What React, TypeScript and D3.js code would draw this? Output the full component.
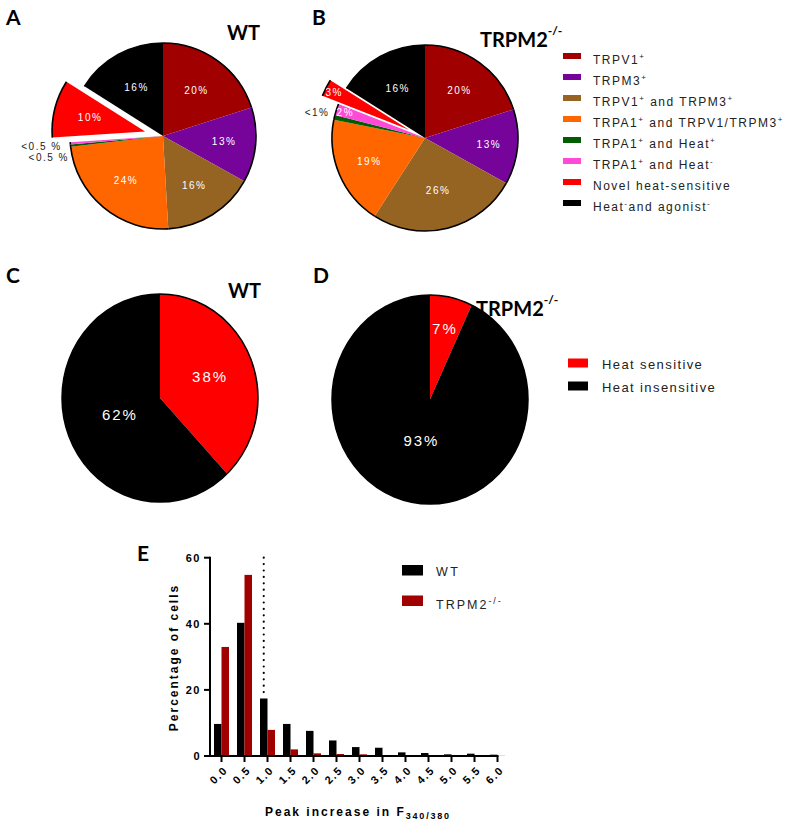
import React from "react";
import * as d3 from "d3";

// ---------- DATA ----------
const abLegendText: string[][] = [
  ["TRPV1", "+"],
  ["TRPM3", "+"],
  ["TRPV1", "+", " and TRPM3", "+"],
  ["TRPA1", "+", " and TRPV1/TRPM3", "+"],
  ["TRPA1", "+", " and Heat", "+"],
  ["TRPA1", "+", " and Heat", "-"],
  ["Novel heat-sensitive"],
  ["Heat", "-", "and agonist", "-"],
];
const abColors = ["#A00000", "#76049A", "#956322", "#FF6600", "#005E00", "#FF4AD8", "#FF0000", "#000000"];
const wtShares = [20, 13, 16, 24, 0.4, 0.4, 10, 16];
const wtLabels = ["20%", "13%", "16%", "24%", "<0.5 %", "<0.5 %", "10%", "16%"];
const koShares = [20, 13, 26, 19, 0.8, 2, 3, 16];
const koLabels = ["20%", "13%", "26%", "19%", "<1%", "2%", "3%", "16%"];

const heatCategories = ["Heat sensitive", "Heat insensitive"];
const heatColors = ["#FF0000", "#000000"];
const heatWT = [38, 62];
const heatKO = [7, 93];
const heatWTLabels = ["38%", "62%"];
const heatKOLabels = ["7%", "93%"];

const binLabels = ["0.0", "0.5", "1.0", "1.5", "2.0", "2.5", "3.0", "3.5", "4.0", "4.5", "5.0", "5.5", "6.0"];
const histWT = [9.7, 40.3, 17.4, 9.7, 7.6, 4.7, 2.7, 2.5, 1.1, 0.9, 0.5, 0.7, 0.4];
const histKO = [33.0, 54.8, 7.9, 2.0, 0.8, 0.6, 0.5, 0.3, 0.1, 0.1, 0.05, 0.05, 0.05];
const histSeries = ["WT", "TRPM2"];
const histColors = ["#000000", "#A00000"];
const yTicks = [0, 20, 40, 60];
const thresholdValue = 19;

// ---------- STYLE ----------
const SANS = "'Liberation Sans', Arial, sans-serif";
const TITLE = "Lato, 'Open Sans', sans-serif";

type OutsideLabel = { dx: number; dy: number; color: string };

function PieAB(props: {
  cx: number; cy: number; r: number; shares: number[]; labels: string[];
  explodeIndex: number; explodeDist: number; labelFactor: number[];
  outside: Record<number, OutsideLabel>; labelColors?: Record<number, string>;
}) {
  const { cx, cy, r, shares, labels, explodeIndex, explodeDist, labelFactor, outside } = props;
  const arcs = d3.pie<number>().sort(null).value((d) => d)(shares);
  const arcGen = d3.arc<any>().innerRadius(0).outerRadius(r);
  return (
    <g transform={`translate(${cx},${cy})`}>
      {arcs.map((a, i) => {
        const mid = (a.startAngle + a.endAngle) / 2;
        const off = i === explodeIndex ? explodeDist : 0;
        const ox = Math.sin(mid) * off;
        const oy = -Math.cos(mid) * off;
        const p = d3.path();
        p.arc(0, 0, r, a.startAngle - Math.PI / 2, a.endAngle - Math.PI / 2);
        return (
          <g key={i} transform={`translate(${ox},${oy})`}>
            <path d={arcGen(a) as string} fill={abColors[i]} />
            <path d={p.toString()} fill="none" stroke="#000" strokeWidth={1.6} />
          </g>
        );
      })}
      {arcs.map((a, i) => {
        const mid = (a.startAngle + a.endAngle) / 2;
        const off = i === explodeIndex ? explodeDist : 0;
        const o = outside[i];
        if (o) {
          const px = Math.sin(mid) * (r + off);
          const py = -Math.cos(mid) * (r + off);
          return (
            <text key={"l" + i} x={px + o.dx} y={py + o.dy} textAnchor="end" fontSize={10}
              letterSpacing={1.5} fill={o.color} fontFamily={SANS}>{labels[i]}</text>
          );
        }
        const rr = r * labelFactor[i] + off;
        return (
          <text key={"l" + i} x={Math.sin(mid) * rr} y={-Math.cos(mid) * rr} textAnchor="middle"
            dominantBaseline="central" fontSize={10} letterSpacing={1.5} fill="#fff" fontFamily={SANS}>
            {labels[i]}
          </text>
        );
      })}
    </g>
  );
}

function PieCD(props: { cx: number; cy: number; rx: number; ry: number; values: number[]; labels: string[]; factors: number[] }) {
  const { cx, cy, rx, ry, values, labels, factors } = props;
  const arcs = d3.pie<number>().sort(null).value((d) => d)(values);
  const arcGen = d3.arc<any>().innerRadius(0).outerRadius(rx);
  const sy = ry / rx;
  return (
    <g transform={`translate(${cx},${cy})`}>
      <g transform={`scale(1,${sy})`}>
        {arcs.map((a, i) => (
          <path key={i} d={arcGen(a) as string} fill={heatColors[i]} />
        ))}
        <circle r={rx} fill="none" stroke="#000" strokeWidth={1.5} vectorEffect="non-scaling-stroke" />
      </g>
      {arcs.map((a, i) => {
        const mid = (a.startAngle + a.endAngle) / 2;
        const f = factors[i];
        return (
          <text key={"t" + i} x={Math.sin(mid) * rx * f} y={-Math.cos(mid) * ry * f} textAnchor="middle"
            dominantBaseline="central" fontSize={15} letterSpacing={2} fill="#fff" fontFamily={SANS}>
            {labels[i]}
          </text>
        );
      })}
    </g>
  );
}

function SupText(props: { x: number; y: number; parts: string[]; size: number; supSize: number; ls: number; fill?: string; weight?: string; family?: string }) {
  const { x, y, parts, size, supSize, ls, fill = "#222", weight = "normal", family = SANS } = props;
  return (
    <text x={x} y={y} fontSize={size} letterSpacing={ls} fill={fill} fontWeight={weight} fontFamily={family}>
      {parts.map((p, i) =>
        i % 2 === 1 ? (
          <tspan key={i} fontSize={supSize} dy={-5}>{p}</tspan>
        ) : (
          <tspan key={i} dy={i === 0 ? 0 : 5}>{p}</tspan>
        )
      )}
    </text>
  );
}

function Histogram() {
  const x0 = d3.scaleBand<string>().domain(binLabels).range([210, 509]);
  const bw = x0.bandwidth();
  const x1 = d3.scaleBand<string>().domain(histSeries).range([bw / 2 - 7.5, bw / 2 + 7.5]);
  const y = d3.scaleLinear().domain([0, 60]).range([756, 557.7]);
  const series = [histWT, histKO];
  const dotX = (x0("1.0") as number) + (x1("WT") as number) + x1.bandwidth() / 2;
  const lastTick = (x0(binLabels[binLabels.length - 1]) as number) + bw / 2;
  return (
    <g fontFamily={SANS}>
      {series.map((vals, s) =>
        vals.map((v, i) => (
          <rect key={s + "-" + i} x={(x0(binLabels[i]) as number) + (x1(histSeries[s]) as number)} y={y(v)}
            width={x1.bandwidth()} height={y(0) - y(v)} fill={histColors[s]} />
        ))
      )}
      <line x1={dotX} x2={dotX} y1={y(60)} y2={y(thresholdValue)} stroke="#000" strokeWidth={2.2}
        strokeDasharray="0,6.4" strokeLinecap="round" />
      {/* y axis */}
      <line x1={210} x2={210} y1={y(60) - 1} y2={y(0) + 1} stroke="#000" strokeWidth={2} />
      {yTicks.map((t) => (
        <g key={t}>
          <line x1={204} x2={210} y1={y(t)} y2={y(t)} stroke="#000" strokeWidth={2} />
          <text x={201} y={y(t)} textAnchor="end" dominantBaseline="central" fontSize={11} fontWeight="bold"
            letterSpacing={1.5}>{t}</text>
        </g>
      ))}
      {/* x axis */}
      <line x1={209} x2={lastTick + 1} y1={y(0)} y2={y(0)} stroke="#000" strokeWidth={2} />
      {binLabels.map((b) => {
        const cx = (x0(b) as number) + bw / 2;
        return (
          <g key={b}>
            <line x1={cx} x2={cx} y1={y(0)} y2={y(0) + 6} stroke="#000" strokeWidth={2} />
            <text transform={`translate(${cx + 4},${y(0) + 12}) rotate(-45)`} textAnchor="end"
              dominantBaseline="central" fontSize={11} fontWeight="bold" letterSpacing={1.5}>{b}</text>
          </g>
        );
      })}
      <text transform="translate(173.5,657.5) rotate(-90)" textAnchor="middle" dominantBaseline="central"
        fontSize={12} fontWeight="bold" letterSpacing={2}>Percentage of cells</text>
      <text x={265} y={816} fontSize={12} fontWeight="bold" letterSpacing={2}>
        Peak increase in F<tspan fontSize={9} dy={3} letterSpacing={1.8}>340/380</tspan>
      </text>
      {/* legend */}
      {histSeries.map((s, i) => (
        <rect key={s} x={402} y={565 + i * 30.5} width={21} height={10.5} fill={histColors[i]} />
      ))}
      <text x={436} y={576} fontSize={12.5} letterSpacing={2.5} fill="#222">WT</text>
      <SupText x={436} y={608.5} parts={["TRPM2", "-/-"]} size={12.5} supSize={9} ls={2} />
    </g>
  );
}

export default function App() {
  const legendBase = 64;
  const legendStep = 21;
  return (
    <svg width={800} height={826} viewBox="0 0 800 826"
      style={{ position: "absolute", left: 0, top: 0, background: "#fff", display: "block" }}>
      <rect width={800} height={826} fill="#fff" />
      {/* panel letters */}
      <g fontFamily={TITLE} fontWeight="bold" fontSize={21} fill="#000">
        <text x={6} y={25}>A</text>
        <text x={312} y={25}>B</text>
        <text x={6} y={283}>C</text>
        <text x={313} y={283}>D</text>
        <text x={137} y={561}>E</text>
      </g>
      {/* titles */}
      <g fontFamily={TITLE} fontWeight="bold" fontSize={20} fill="#000">
        <text x={227} y={40}>WT</text>
        <text x={480} y={46.5}>TRPM2<tspan fontSize={12} dy={-12}>-/-</tspan></text>
        <text x={228} y={298}>WT</text>
        <text x={476} y={315.5}>TRPM2<tspan fontSize={12} dy={-12}>-/-</tspan></text>
      </g>

      <PieAB cx={163} cy={136} r={93} shares={wtShares} labels={wtLabels} explodeIndex={6} explodeDist={18.5}
        labelFactor={[0.61, 0.66, 0.63, 0.62, 0, 0, 0.61, 0.59]}
        outside={{ 4: { dx: -1.5, dy: 15.5, color: "#222" }, 5: { dx: -8.6, dy: 7, color: "#222" } }} />
      <PieAB cx={425} cy={138} r={93} shares={koShares} labels={koLabels} explodeIndex={6} explodeDist={18}
        labelFactor={[0.63, 0.69, 0.58, 0.65, 0, 0.9, 0.9, 0.61]}
        outside={{ 4: { dx: -4.8, dy: -1.4, color: "#222" } }} />

      {/* legend A/B */}
      {abLegendText.map((parts, i) => (
        <g key={i}>
          <rect x={563} y={legendBase + i * legendStep - 11} width={18} height={6} fill={abColors[i]} />
          <SupText x={593} y={legendBase + i * legendStep} parts={parts} size={12} supSize={8} ls={1.5} />
        </g>
      ))}

      <PieCD cx={160} cy={398} rx={98} ry={104} values={heatWT} labels={heatWTLabels} factors={[0.55, 0.44]} />
      <PieCD cx={430} cy={399.6} rx={98} ry={104.5} values={heatKO} labels={heatKOLabels} factors={[0.7, 0.4]} />

      {/* legend C/D */}
      {heatCategories.map((c, i) => (
        <g key={c}>
          <rect x={568} y={358.5 + i * 23} width={20} height={9} fill={heatColors[i]} />
          <text x={602} y={368.5 + i * 23} fontSize={13} letterSpacing={1.4} fill="#222" fontFamily={SANS}>{c}</text>
        </g>
      ))}

      <Histogram />
    </svg>
  );
}
